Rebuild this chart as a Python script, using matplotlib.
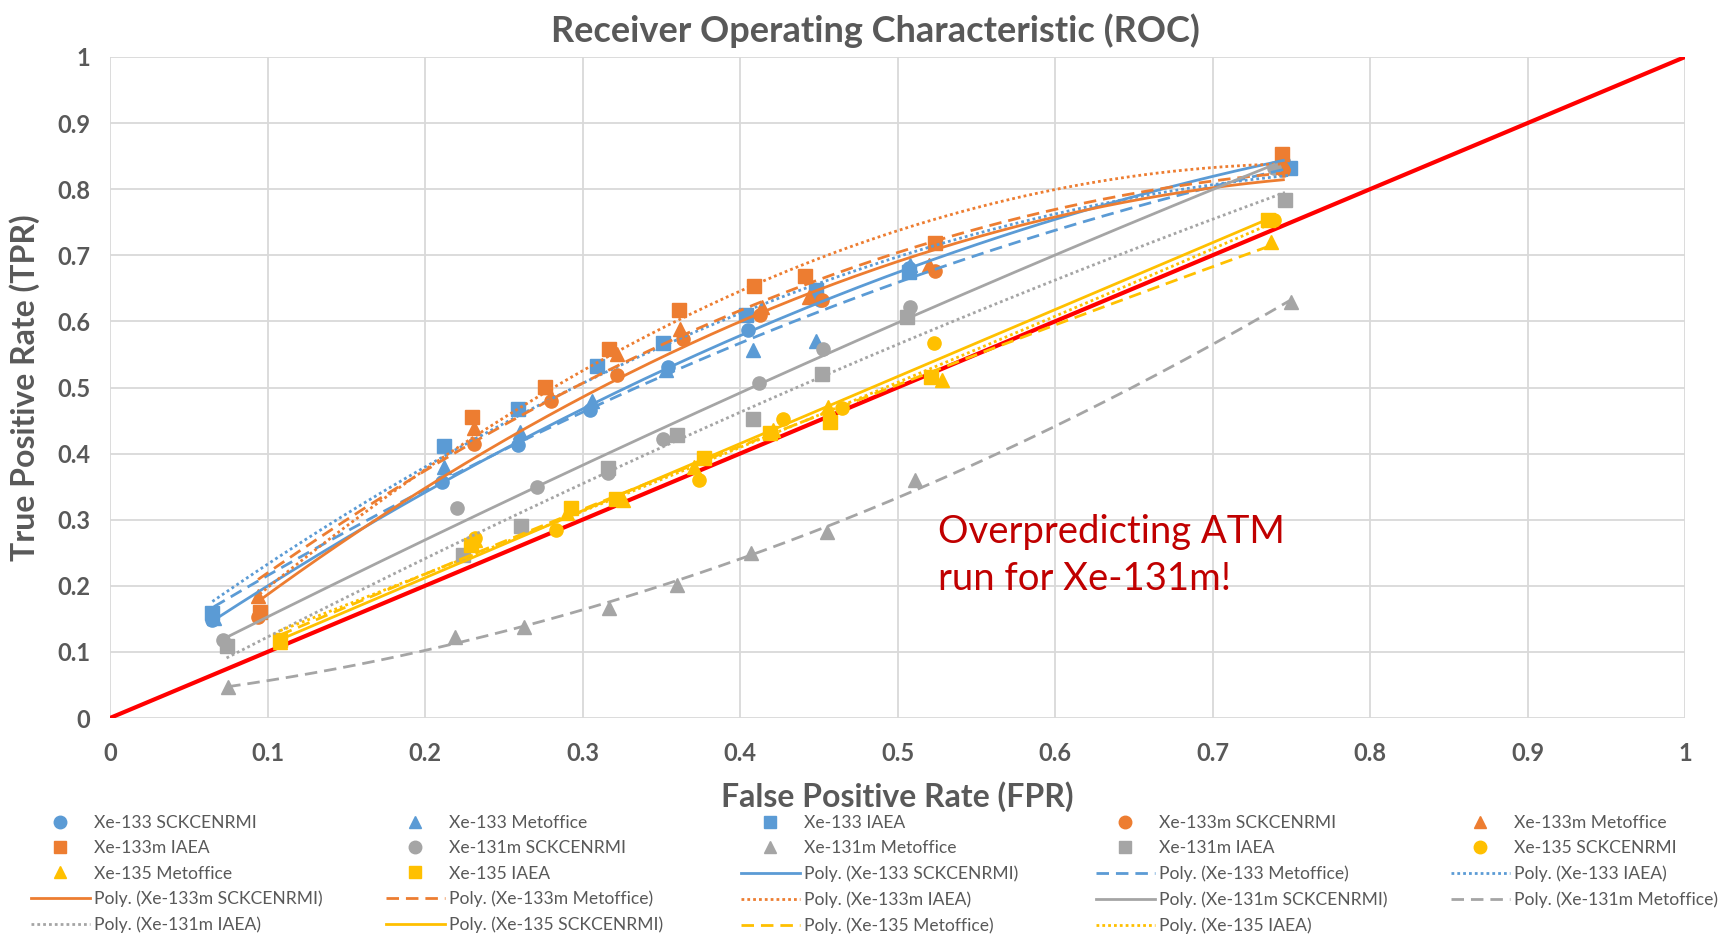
import numpy as np
import matplotlib.pyplot as plt
from matplotlib.lines import Line2D

plt.rcParams['font.family'] = ['Lato', 'DejaVu Sans']

# FPR / TPR, one pair of lists per isotope and model
x133_sck_fpr = [0.065, 0.211, 0.259, 0.305, 0.354, 0.405, 0.451, 0.507, 0.745]
x133_sck_tpr = [0.149, 0.357, 0.413, 0.466, 0.531, 0.587, 0.633, 0.681, 0.842]
x133_met_fpr = [0.066, 0.212, 0.260, 0.306, 0.353, 0.408, 0.448, 0.508, 0.746]
x133_met_tpr = [0.152, 0.380, 0.433, 0.479, 0.526, 0.557, 0.570, 0.686, 0.835]
x133_iaea_fpr = [0.065, 0.212, 0.259, 0.309, 0.351, 0.404, 0.448, 0.507, 0.749]
x133_iaea_tpr = [0.159, 0.412, 0.468, 0.532, 0.568, 0.610, 0.648, 0.675, 0.832]

x133m_sck_fpr = [0.094, 0.231, 0.280, 0.322, 0.364, 0.413, 0.452, 0.524, 0.745]
x133m_sck_tpr = [0.153, 0.415, 0.480, 0.519, 0.574, 0.610, 0.632, 0.676, 0.829]
x133m_met_fpr = [0.094, 0.231, 0.277, 0.322, 0.362, 0.414, 0.444, 0.520, 0.745]
x133m_met_tpr = [0.184, 0.438, 0.501, 0.550, 0.589, 0.622, 0.637, 0.685, 0.840]
x133m_iaea_fpr = [0.095, 0.230, 0.276, 0.317, 0.361, 0.409, 0.441, 0.524, 0.744]
x133m_iaea_tpr = [0.161, 0.456, 0.501, 0.559, 0.618, 0.653, 0.668, 0.718, 0.854]

x131m_sck_fpr = [0.072, 0.220, 0.271, 0.316, 0.351, 0.412, 0.453, 0.508, 0.739]
x131m_sck_tpr = [0.118, 0.317, 0.350, 0.370, 0.422, 0.507, 0.559, 0.622, 0.832]
x131m_met_fpr = [0.075, 0.219, 0.263, 0.317, 0.360, 0.407, 0.455, 0.511, 0.750]
x131m_met_tpr = [0.047, 0.123, 0.137, 0.166, 0.201, 0.250, 0.282, 0.360, 0.630]
x131m_iaea_fpr = [0.074, 0.224, 0.261, 0.316, 0.360, 0.408, 0.452, 0.506, 0.746]
x131m_iaea_tpr = [0.109, 0.247, 0.290, 0.378, 0.428, 0.453, 0.520, 0.607, 0.784]

x135_sck_fpr = [0.108, 0.232, 0.283, 0.321, 0.374, 0.427, 0.465, 0.523, 0.739]
x135_sck_tpr = [0.115, 0.272, 0.284, 0.331, 0.360, 0.453, 0.469, 0.568, 0.753]
x135_met_fpr = [0.108, 0.232, 0.290, 0.326, 0.371, 0.421, 0.456, 0.528, 0.737]
x135_met_tpr = [0.115, 0.270, 0.310, 0.330, 0.380, 0.436, 0.471, 0.511, 0.720]
x135_iaea_fpr = [0.108, 0.229, 0.293, 0.321, 0.377, 0.419, 0.457, 0.521, 0.735]
x135_iaea_tpr = [0.118, 0.262, 0.317, 0.332, 0.393, 0.431, 0.448, 0.516, 0.753]

diag = [0, 1]

blue, orange, gray, yellow = '#5B9BD5', '#ED7D31', '#A5A5A5', '#FFC000'
solid, dashed, dotted = '-', (0, (4.5, 2.5)), (0, (1, 1.1))

series = [
    ('Xe-133 SCKCENRMI', x133_sck_fpr, x133_sck_tpr, blue, 'o', solid),
    ('Xe-133 Metoffice', x133_met_fpr, x133_met_tpr, blue, '^', dashed),
    ('Xe-133 IAEA', x133_iaea_fpr, x133_iaea_tpr, blue, 's', dotted),
    ('Xe-133m SCKCENRMI', x133m_sck_fpr, x133m_sck_tpr, orange, 'o', solid),
    ('Xe-133m Metoffice', x133m_met_fpr, x133m_met_tpr, orange, '^', dashed),
    ('Xe-133m IAEA', x133m_iaea_fpr, x133m_iaea_tpr, orange, 's', dotted),
    ('Xe-131m SCKCENRMI', x131m_sck_fpr, x131m_sck_tpr, gray, 'o', solid),
    ('Xe-131m Metoffice', x131m_met_fpr, x131m_met_tpr, gray, '^', dashed),
    ('Xe-131m IAEA', x131m_iaea_fpr, x131m_iaea_tpr, gray, 's', dotted),
    ('Xe-135 SCKCENRMI', x135_sck_fpr, x135_sck_tpr, yellow, 'o', solid),
    ('Xe-135 Metoffice', x135_met_fpr, x135_met_tpr, yellow, '^', dashed),
    ('Xe-135 IAEA', x135_iaea_fpr, x135_iaea_tpr, yellow, 's', dotted),
]

txt = '#595959'
fig = plt.figure(figsize=(17.26, 9.34), dpi=100)
ax = fig.add_axes([110/1726, 1-718/934, 1575/1726, 661/934])

ax.plot(diag, diag, color='#FF0000', lw=3, zorder=2)

handles, labels = [], []
for name, fx, ty, c, m, ls in series:
    ax.plot(fx, ty, m, color=c, ms=9.5, mec=c, zorder=3, clip_on=False)
    handles.append(Line2D([], [], marker=m, color=c, ls='none', ms=9))
    labels.append(name)

# 2nd order polynomial trendlines, as Excel does
for name, fx, ty, c, m, ls in series:
    coef = np.polyfit(fx, ty, 2)
    xs = np.linspace(min(fx), max(fx), 200)
    ax.plot(xs, np.polyval(coef, xs), color=c, lw=2, ls=ls, zorder=4)
    handles.append(Line2D([], [], color=c, lw=2, ls=ls))
    labels.append('Poly. (' + name + ')')

ax.set_xlim(0, 1)
ax.set_ylim(0, 1)
ticks = np.round(np.arange(0, 1.01, 0.1), 1)
ax.set_xticks(ticks, [f'{v:g}' for v in ticks], fontweight='bold')
ax.set_yticks(ticks, [f'{v:g}' for v in ticks], fontweight='bold')
ax.tick_params(length=0, labelsize=17, labelcolor=txt)
ax.tick_params(axis='x', pad=17)
ax.tick_params(axis='y', pad=14)
for s in ax.spines.values():
    s.set_visible(False)
ax.grid(True, color='#D9D9D9', lw=1.3)
ax.set_axisbelow(True)

ax.set_title('Receiver Operating Characteristic (ROC)', fontsize=26,
             fontweight='bold', color=txt, x=0.486, pad=11)
ax.set_xlabel('False Positive Rate (FPR)', fontsize=23, fontweight='bold',
              color=txt, va='center')
ax.xaxis.set_label_coords(0.5, -0.119)
ax.set_ylabel('True Positive Rate (TPR)', fontsize=23, fontweight='bold',
              color=txt, va='center')
ax.yaxis.set_label_coords(-0.0545, 0.5)

ax.text(0.526, 0.309, 'Overpredicting ATM\nrun for Xe-131m!', fontsize=27.5,
        color='#C00000', va='top', ha='left', linespacing=1.4)

# legend is filled row by row in the original: one legend per column
ncol = 5
for c in range(ncol):
    idx = list(range(c, len(handles), ncol))
    leg = fig.legend([handles[i] for i in idx], [labels[i] for i in idx],
                     loc='upper left', bbox_to_anchor=((31 + 355*c)/1726, 1-815/934),
                     frameon=False, fontsize=12.6, handlelength=3.37,
                     handletextpad=0.23, labelspacing=0.53, borderpad=0,
                     borderaxespad=0)
    for t in leg.get_texts():
        t.set_color(txt)

fig.savefig('out.png', dpi=100)
